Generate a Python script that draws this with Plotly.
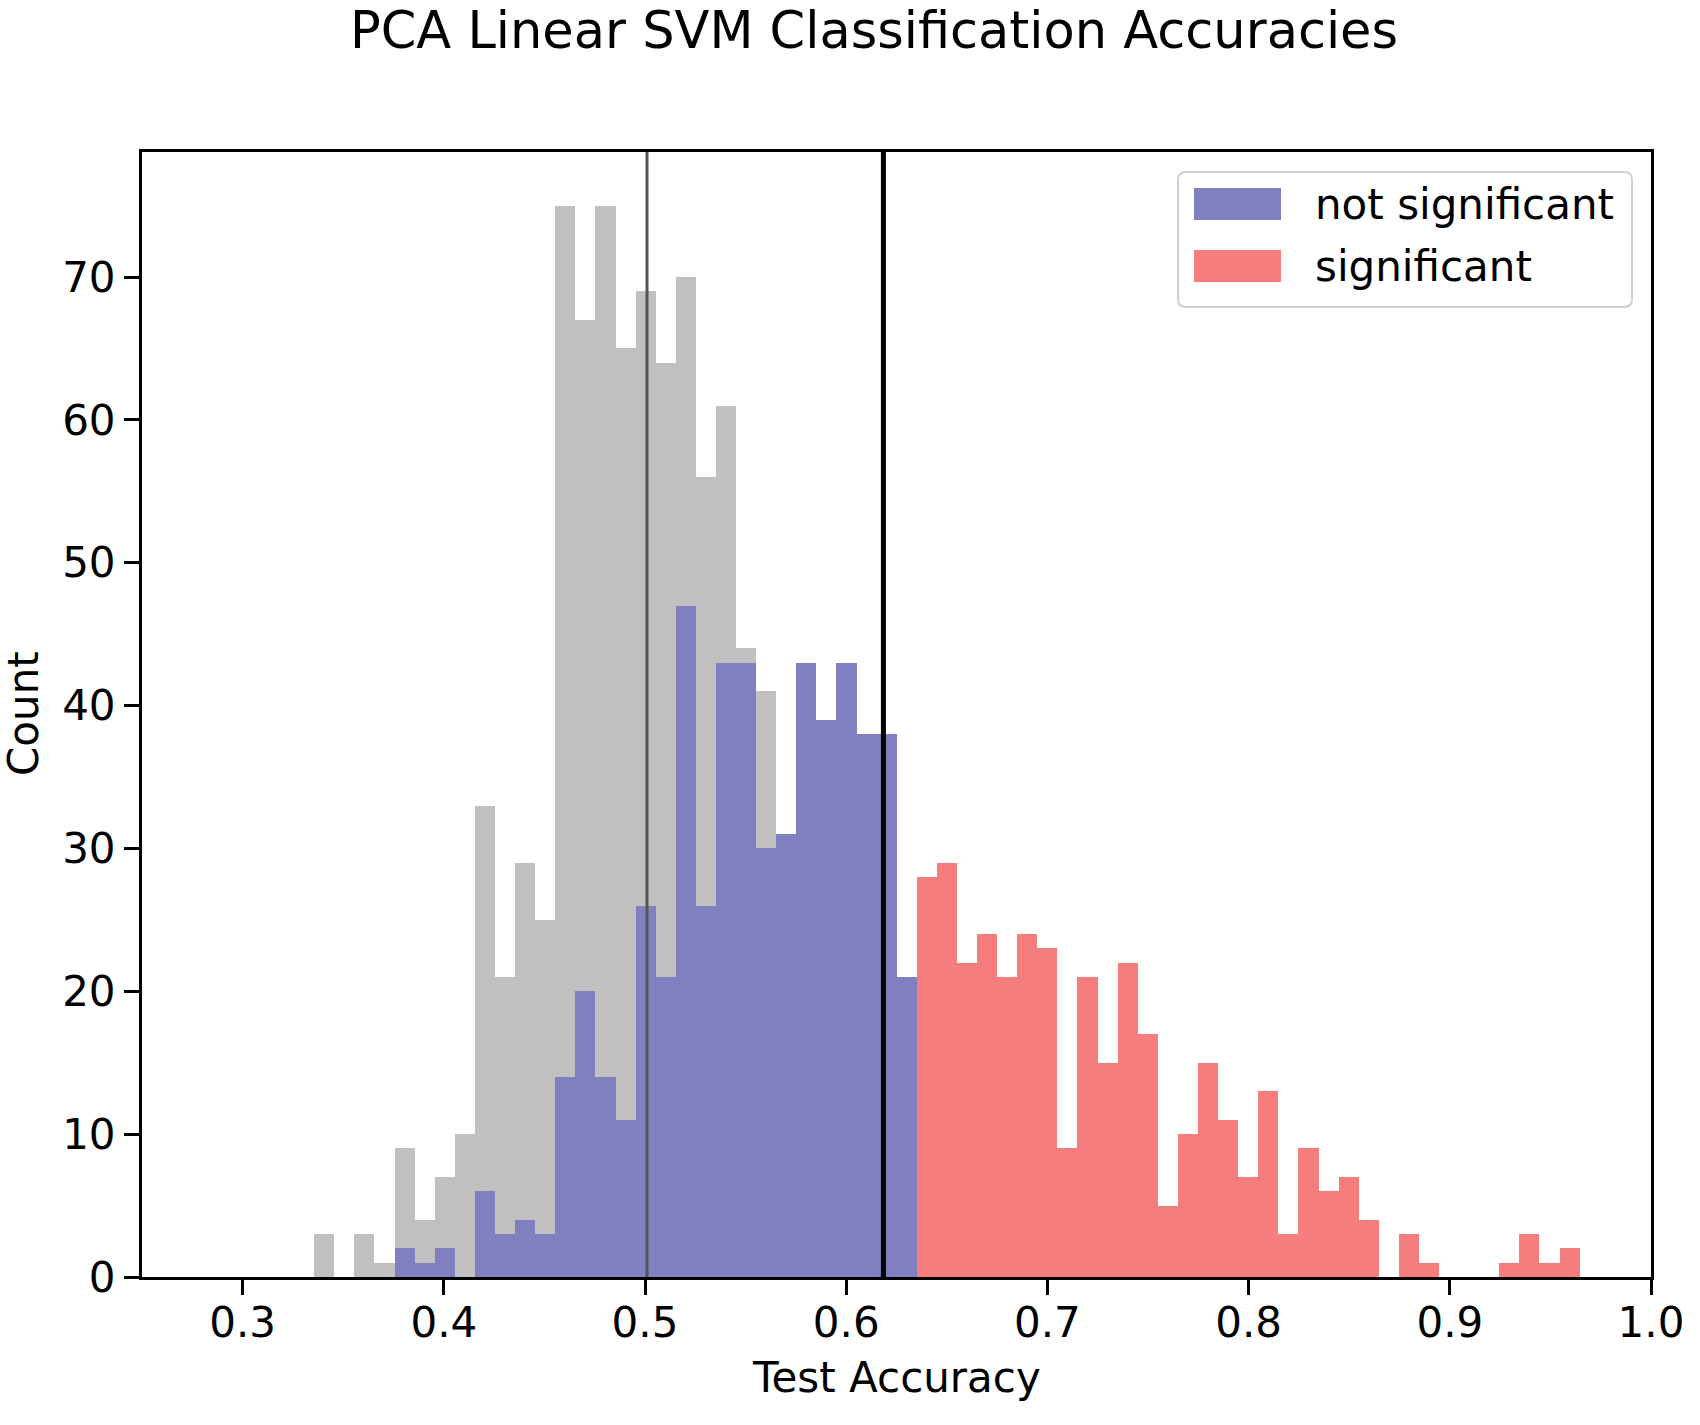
import numpy as np
import plotly.graph_objects as go

# ---------------- data ----------------
bin_start = 0.3356
bin_width = 0.009983
null_counts = [3, 0, 3, 1, 9, 4, 7, 10, 33, 21, 29, 25, 75, 67, 75, 65, 69, 64, 70, 56,
               61, 44, 41, 29, 22, 17, 13, 9, 6, 4, 4, 0, 2, 0, 0, 0, 1,
               0, 0, 0, 0, 0, 0, 0, 0, 0, 0, 0, 0, 0, 0, 0, 0, 0, 0, 0, 0, 0, 0, 0, 0, 0, 0]
not_sig_counts = [0, 0, 0, 0, 2, 1, 2, 0, 6, 3, 4, 3, 14, 20, 14, 11, 26, 21, 47, 26,
                  43, 43, 30, 31, 43, 39, 43, 38, 38, 21,
                  0, 0, 0, 0, 0, 0, 0, 0, 0, 0, 0, 0, 0, 0, 0, 0, 0, 0, 0, 0, 0, 0, 0, 0, 0, 0, 0, 0, 0, 0, 0, 0, 0]
sig_counts = [0] * 30 + [28, 29, 22, 24, 21, 24, 23, 9, 21, 15, 22, 17, 5, 10, 15, 11, 7, 13,
                         3, 9, 6, 7, 4, 0, 3, 1, 0, 0, 0, 1, 3, 1, 2]
chance_line = 0.501
threshold_line = 0.6185
x_ticks = [0.3, 0.4, 0.5, 0.6, 0.7, 0.8, 0.9, 1.0]
y_ticks = [0, 10, 20, 30, 40, 50, 60, 70]
legend_labels = ["not significant", "significant"]

# ---------------- style ----------------
FONT = "DejaVu Sans"
GRAY = "#c0c0c0"
BLUE = "#8080c0"
RED = "#f57d7d"

W, H = 1700, 1425
ML, MR, MT, MB = 142, 49, 152, 148
PW, PH = W - ML - MR, H - MT - MB

n_bins = len(null_counts)
centers = bin_start + (np.arange(n_bins) + 0.5) * bin_width

fig = go.Figure()
for counts, col, name in [(null_counts, GRAY, "null"),
                          (not_sig_counts, BLUE, legend_labels[0]),
                          (sig_counts, RED, legend_labels[1])]:
    fig.add_trace(go.Bar(x=centers, y=counts, width=bin_width, name=name,
                         marker=dict(color=col, line=dict(width=0)),
                         showlegend=False))

shapes = [
    dict(type="line", xref="x", yref="paper", x0=chance_line, x1=chance_line, y0=0, y1=1,
         line=dict(color="#555555", width=3)),
    dict(type="line", xref="x", yref="paper", x0=threshold_line, x1=threshold_line, y0=0, y1=1,
         line=dict(color="#000000", width=5)),
]


def px_to_paper(xp, yp):
    return (xp - ML) / PW, (H - MB - yp) / PH


def rounded_rect(x0p, y0p, x1p, y1p, r):
    def P(x, y):
        px, py = px_to_paper(x, y)
        return f"{px:.5f},{py:.5f}"
    return (f"M {P(x0p + r, y0p)} L {P(x1p - r, y0p)} Q {P(x1p, y0p)} {P(x1p, y0p + r)} "
            f"L {P(x1p, y1p - r)} Q {P(x1p, y1p)} {P(x1p - r, y1p)} "
            f"L {P(x0p + r, y1p)} Q {P(x0p, y1p)} {P(x0p, y1p - r)} "
            f"L {P(x0p, y0p + r)} Q {P(x0p, y0p)} {P(x0p + r, y0p)} Z")

# legend box (drawn manually to get matplotlib-like wide patches)
shapes.append(dict(type="path", xref="paper", yref="paper",
                   path=rounded_rect(1178, 172, 1632, 307, 8),
                   line=dict(color="#d0d0d0", width=2),
                   fillcolor="rgba(255,255,255,0.85)", layer="above"))
annotations = []
for i, (lab, col) in enumerate(zip(legend_labels, [BLUE, RED])):
    yc = 204 + i * 62
    x0, y0 = px_to_paper(1194, yc - 16)
    x1, y1 = px_to_paper(1281, yc + 16)
    shapes.append(dict(type="rect", xref="paper", yref="paper", x0=x0, x1=x1, y0=y1, y1=y0,
                       fillcolor=col, line=dict(width=0), layer="above"))
    tx, ty = px_to_paper(1313, yc)
    annotations.append(dict(xref="paper", yref="paper", x=tx, y=ty, text=lab,
                            showarrow=False, xanchor="left", yanchor="middle",
                            font=dict(family=FONT, size=42, color="black")))

# axis titles as annotations for exact placement
xt_x, xt_y = px_to_paper(896, 1377)
annotations.append(dict(xref="paper", yref="paper", x=xt_x, y=xt_y, text="Test Accuracy",
                        showarrow=False, xanchor="center", yanchor="middle",
                        font=dict(family=FONT, size=42, color="black")))
yt_x, yt_y = px_to_paper(23, 714)
annotations.append(dict(xref="paper", yref="paper", x=yt_x, y=yt_y, text="Count",
                        showarrow=False, xanchor="center", yanchor="middle", textangle=-90,
                        font=dict(family=FONT, size=42, color="black")))

fig.update_layout(
    width=W, height=H,
    margin=dict(l=ML, r=MR, t=MT, b=MB),
    paper_bgcolor="white", plot_bgcolor="white",
    barmode="overlay", bargap=0,
    title=dict(text="PCA Linear SVM Classification Accuracies",
               x=874 / W, xref="container", xanchor="center",
               y=1 - 30 / H, yref="container", yanchor="middle",
               font=dict(family=FONT, size=51, color="black")),
    shapes=shapes, annotations=annotations,
    font=dict(family=FONT, color="black"),
)
fig.update_xaxes(range=[0.25, 1.0], tickvals=x_ticks, tickformat=".1f",
                 showgrid=False, zeroline=False,
                 showline=True, mirror=True, linecolor="black", linewidth=3,
                 ticks="outside", ticklen=15, tickwidth=3, tickcolor="black",
                 ticklabelstandoff=-8,
                 tickfont=dict(family=FONT, size=42, color="black"))
fig.update_yaxes(range=[0, 78.75], tickvals=y_ticks,
                 showgrid=False, zeroline=False,
                 showline=True, mirror=True, linecolor="black", linewidth=3,
                 ticks="outside", ticklen=15, tickwidth=3, tickcolor="black",
                 tickfont=dict(family=FONT, size=42, color="black"))

fig.write_html("out.html", config={"displayModeBar": False},
               post_script="document.body.style.margin='0px';")
